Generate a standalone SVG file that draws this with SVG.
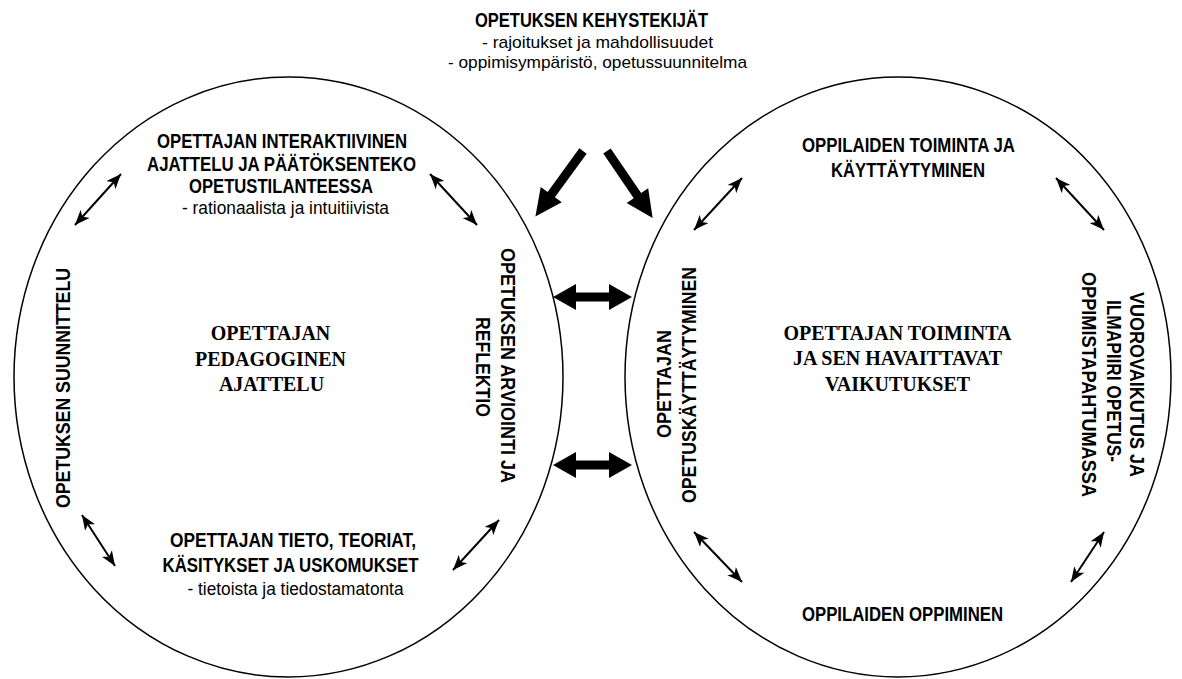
<svg xmlns="http://www.w3.org/2000/svg" width="1182" height="679" viewBox="0 0 1182 679">
<defs>
<style>
.sb{font-family:"Liberation Sans Narrow","Liberation Sans",Arial,sans-serif;font-weight:bold;font-size:19.5px;fill:#000}
.sr{font-family:"Liberation Sans Narrow","Liberation Sans",Arial,sans-serif;font-weight:normal;font-size:17.5px;fill:#000}
.sf{font-family:"Liberation Serif","Times New Roman",serif;font-weight:bold;font-size:20px;fill:#000}
.ell{fill:none;stroke:#000;stroke-width:1.5}
.thin{stroke:#000;stroke-width:2;fill:none;marker-start:url(#ah);marker-end:url(#ah)}
.thick{fill:#000;stroke:none}
</style>
<marker id="ah" viewBox="0 0 15 12" refX="15" refY="6" markerWidth="15" markerHeight="12" markerUnits="userSpaceOnUse" orient="auto-start-reverse">
<path d="M0,0 L15,6 L0,12 L4,6 Z" fill="#000"/>
</marker>
<path id="thickArrow" d="M0,-4.5 L54,-4.5 L54,-13 L81,0 L54,13 L54,4.5 L0,4.5 Z"/>
<path id="dblArrow" d="M0,0 L23,-13 L23,-4.5 L56,-4.5 L56,-13 L79,0 L56,13 L56,4.5 L23,4.5 L23,13 Z"/>
</defs>
<rect width="1182" height="679" fill="#fff"/>

<g id="frame-factors" text-anchor="middle">
<text class="sb" x="591.5" y="27" textLength="233" lengthAdjust="spacingAndGlyphs" style="font-size:20px">OPETUKSEN KEHYSTEKIJÄT</text>
<text class="sr" x="597.5" y="47.5" textLength="231" lengthAdjust="spacingAndGlyphs" style="font-size:17px">- rajoitukset ja mahdollisuudet</text>
<text class="sr" x="597.5" y="68" textLength="299" lengthAdjust="spacingAndGlyphs" style="font-size:17px">- oppimisympäristö, opetussuunnitelma</text>
</g>

<g id="left-circle">
<ellipse class="ell" cx="288.5" cy="377" rx="274.5" ry="300"/>
<g text-anchor="middle">
<text class="sf" x="270.5" y="340">OPETTAJAN</text>
<text class="sf" x="270.5" y="366">PEDAGOGINEN</text>
<text class="sf" x="271.5" y="391">AJATTELU</text>
</g>
</g>

<g id="right-circle">
<ellipse class="ell" cx="898" cy="377" rx="273" ry="300"/>
<g text-anchor="middle">
<text class="sf" x="897.5" y="340">OPETTAJAN TOIMINTA</text>
<text class="sf" x="897.5" y="365">JA SEN HAVAITTAVAT</text>
<text class="sf" x="897.5" y="391">VAIKUTUKSET</text>
</g>
</g>

<g id="node-interactive-thinking" text-anchor="middle">
<text class="sb" x="282" y="148" textLength="250" lengthAdjust="spacingAndGlyphs">OPETTAJAN INTERAKTIIVINEN</text>
<text class="sb" x="281.5" y="171" textLength="269" lengthAdjust="spacingAndGlyphs">AJATTELU JA PÄÄTÖKSENTEKO</text>
<text class="sb" x="281" y="193" textLength="184" lengthAdjust="spacingAndGlyphs">OPETUSTILANTEESSA</text>
<text class="sr" x="285.5" y="213.5" textLength="207" lengthAdjust="spacingAndGlyphs">- rationaalista ja intuitiivista</text>
</g>

<g id="node-planning" text-anchor="middle">
<text class="sb" transform="translate(70,388) rotate(-90)" x="0" y="0" textLength="240" lengthAdjust="spacingAndGlyphs">OPETUKSEN SUUNNITTELU</text>
</g>

<g id="node-evaluation" text-anchor="middle">
<text class="sb" transform="translate(501,365.5) rotate(90)" x="0" y="0" textLength="235" lengthAdjust="spacingAndGlyphs">OPETUKSEN ARVIOINTI JA</text>
<text class="sb" transform="translate(476,367) rotate(90)" x="0" y="0" textLength="100" lengthAdjust="spacingAndGlyphs">REFLEKTIO</text>
</g>

<g id="node-knowledge" text-anchor="middle">
<text class="sb" x="293" y="547" textLength="246" lengthAdjust="spacingAndGlyphs">OPETTAJAN TIETO, TEORIAT,</text>
<text class="sb" x="290.5" y="572" textLength="256" lengthAdjust="spacingAndGlyphs">KÄSITYKSET JA USKOMUKSET</text>
<text class="sr" x="295.5" y="595" textLength="216" lengthAdjust="spacingAndGlyphs">- tietoista ja tiedostamatonta</text>
</g>

<g id="node-student-action" text-anchor="middle">
<text class="sb" x="908.5" y="152" textLength="213" lengthAdjust="spacingAndGlyphs">OPPILAIDEN TOIMINTA JA</text>
<text class="sb" x="908" y="177" textLength="154" lengthAdjust="spacingAndGlyphs">KÄYTTÄYTYMINEN</text>
</g>

<g id="node-teacher-behaviour" text-anchor="middle">
<text class="sb" transform="translate(671,384) rotate(-90)" x="0" y="0" textLength="108" lengthAdjust="spacingAndGlyphs">OPETTAJAN</text>
<text class="sb" transform="translate(696,385) rotate(-90)" x="0" y="0" textLength="236" lengthAdjust="spacingAndGlyphs">OPETUSKÄYTTÄYTYMINEN</text>
</g>

<g id="node-interaction" text-anchor="middle">
<text class="sb" transform="translate(1130,384.5) rotate(90)" x="0" y="0" textLength="185" lengthAdjust="spacingAndGlyphs">VUOROVAIKUTUS JA</text>
<text class="sb" transform="translate(1107,381) rotate(90)" x="0" y="0" textLength="162" lengthAdjust="spacingAndGlyphs">ILMAPIIRI OPETUS-</text>
<text class="sb" transform="translate(1082,384.5) rotate(90)" x="0" y="0" textLength="225" lengthAdjust="spacingAndGlyphs">OPPIMISTAPAHTUMASSA</text>
</g>

<g id="node-learning" text-anchor="middle">
<text class="sb" x="902.5" y="621" textLength="201" lengthAdjust="spacingAndGlyphs">OPPILAIDEN OPPIMINEN</text>
</g>

<g id="connectors">
<line class="thin" x1="75" y1="225" x2="121" y2="174"/>
<line class="thin" x1="430" y1="174" x2="477" y2="225"/>
<line class="thin" x1="82" y1="515" x2="115" y2="566"/>
<line class="thin" x1="453" y1="570" x2="499" y2="520"/>
<line class="thin" x1="694" y1="230" x2="742" y2="178"/>
<line class="thin" x1="1056" y1="178" x2="1104" y2="230"/>
<line class="thin" x1="694" y1="532" x2="742" y2="582"/>
<line class="thin" x1="1071" y1="582" x2="1104" y2="532"/>
<use href="#thickArrow" class="thick" transform="translate(583,151) rotate(126)"/>
<use href="#thickArrow" class="thick" transform="translate(607,151) rotate(55.7)"/>
<use href="#dblArrow" class="thick" transform="translate(553,297)"/>
<use href="#dblArrow" class="thick" transform="translate(553,465)"/>
</g>
</svg>
